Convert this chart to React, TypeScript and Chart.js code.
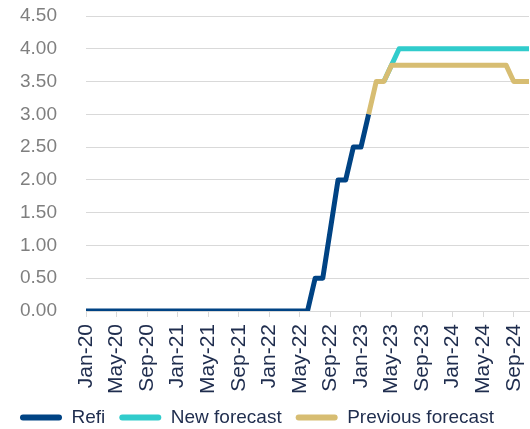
import React, { useEffect, useRef } from "react";
import { Chart, registerables } from "chart.js";

Chart.register(...registerables);

// Monthly categories, Jan-20 .. Nov-24
const months = [
  "Jan-20", "Feb-20", "Mar-20", "Apr-20", "May-20", "Jun-20", "Jul-20", "Aug-20", "Sep-20", "Oct-20", "Nov-20", "Dec-20",
  "Jan-21", "Feb-21", "Mar-21", "Apr-21", "May-21", "Jun-21", "Jul-21", "Aug-21", "Sep-21", "Oct-21", "Nov-21", "Dec-21",
  "Jan-22", "Feb-22", "Mar-22", "Apr-22", "May-22", "Jun-22", "Jul-22", "Aug-22", "Sep-22", "Oct-22", "Nov-22", "Dec-22",
  "Jan-23", "Feb-23", "Mar-23", "Apr-23", "May-23", "Jun-23", "Jul-23", "Aug-23", "Sep-23", "Oct-23", "Nov-23", "Dec-23",
  "Jan-24", "Feb-24", "Mar-24", "Apr-24", "May-24", "Jun-24", "Jul-24", "Aug-24", "Sep-24", "Oct-24", "Nov-24",
];

// Actual refinancing rate (%)
const refi: (number | null)[] = [
  0, 0, 0, 0, 0, 0, 0, 0, 0, 0, 0, 0,
  0, 0, 0, 0, 0, 0, 0, 0, 0, 0, 0, 0,
  0, 0, 0, 0, 0, 0, 0.5, 0.5, 1.25, 2, 2, 2.5,
  2.5, 3, null, null, null, null, null, null, null, null, null, null,
  null, null, null, null, null, null, null, null, null, null, null,
];

// Latest forecast path (%)
const newForecast: (number | null)[] = [
  null, null, null, null, null, null, null, null, null, null, null, null,
  null, null, null, null, null, null, null, null, null, null, null, null,
  null, null, null, null, null, null, null, null, null, null, null, null,
  null, null, null, 3.5, 3.75, 4, 4, 4, 4, 4, 4, 4,
  4, 4, 4, 4, 4, 4, 4, 4, 4, 4, 4,
];

// Earlier forecast path (%)
const previousForecast: (number | null)[] = [
  null, null, null, null, null, null, null, null, null, null, null, null,
  null, null, null, null, null, null, null, null, null, null, null, null,
  null, null, null, null, null, null, null, null, null, null, null, null,
  null, 3, 3.5, 3.5, 3.75, 3.75, 3.75, 3.75, 3.75, 3.75, 3.75, 3.75,
  3.75, 3.75, 3.75, 3.75, 3.75, 3.75, 3.75, 3.75, 3.5, 3.5, 3.5,
];

const yTicks = [0, 0.5, 1, 1.5, 2, 2.5, 3, 3.5, 4, 4.5];

const FONT = "'Liberation Sans', Arial, Helvetica, sans-serif";
const NAVY = "#004384";
const TEAL = "#31cccc";
const GOLD = "#d7bd72";
const GRID = "#d9d9d9";
const TEXT_DARK = "#1f2d4e";
const TEXT_GREY = "#7f7f7f";

const WIDTH = 530;
const HEIGHT = 437;

export default function App() {
  const canvasRef = useRef<HTMLCanvasElement | null>(null);

  useEffect(() => {
    const canvas = canvasRef.current;
    if (!canvas) return;

    const lineStyle = {
      borderWidth: 5,
      pointRadius: 0,
      pointHoverRadius: 0,
      tension: 0,
      fill: false,
      borderJoinStyle: "round" as const,
      spanGaps: false,
    };

    const chart = new Chart(canvas, {
      type: "line",
      data: {
        labels: months,
        datasets: [
          { label: "Refi", data: refi, borderColor: NAVY, backgroundColor: NAVY, order: 0, ...lineStyle },
          { label: "New forecast", data: newForecast, borderColor: TEAL, backgroundColor: TEAL, order: 2, ...lineStyle },
          { label: "Previous forecast", data: previousForecast, borderColor: GOLD, backgroundColor: GOLD, order: 1, ...lineStyle },
        ],
      },
      options: {
        responsive: false,
        animation: false,
        devicePixelRatio: 1,
        layout: { padding: { left: 6, right: 1, top: 16, bottom: 0 } },
        plugins: {
          tooltip: { enabled: false },
          legend: {
            position: "bottom",
            align: "start",
            labels: {
              boxWidth: 42,
              boxHeight: 6,
              padding: 14,
              useBorderRadius: true,
              borderRadius: 3,
              color: TEXT_DARK,
              font: { family: FONT, size: 19 },
              sort: (a: any, b: any) => a.datasetIndex - b.datasetIndex,
              generateLabels: (c: any) =>
                Chart.defaults.plugins.legend.labels
                  .generateLabels(c)
                  .map((item: any) => ({ ...item, lineWidth: 0 })),
            },
          },
        },
        scales: {
          x: {
            type: "category",
            offset: false,
            afterFit: (scale: any) => {
              scale.height = 83;
              scale.paddingLeft = 0;
              scale.paddingRight = 0;
            },
            border: { display: true, color: GRID, width: 1 },
            grid: {
              drawOnChartArea: false,
              drawTicks: true,
              tickLength: 6,
              color: GRID,
            },
            ticks: {
              autoSkip: false,
              minRotation: 90,
              maxRotation: 90,
              padding: 7,
              color: TEXT_DARK,
              font: { family: FONT, size: 21 },
              callback: (_v: any, i: number) => (i % 4 === 0 ? months[i] : null),
            },
          },
          y: {
            min: 0,
            max: 4.5,
            afterFit: (scale: any) => {
              scale.width = 80;
              scale.paddingTop = 0;
              scale.paddingBottom = 0;
            },
            afterBuildTicks: (scale: any) => {
              scale.ticks = yTicks.map((v) => ({ value: v }));
            },
            border: { display: false },
            grid: { color: GRID, lineWidth: 1, drawTicks: false },
            ticks: {
              padding: 29,
              color: TEXT_GREY,
              font: { family: FONT, size: 19 },
              callback: (v: any) => Number(v).toFixed(2),
            },
          },
        },
      },
    });

    return () => chart.destroy();
  }, []);

  return (
    <canvas
      ref={canvasRef}
      width={WIDTH}
      height={HEIGHT}
      style={{ position: "absolute", left: 0, top: 0, width: WIDTH, height: HEIGHT }}
    />
  );
}
